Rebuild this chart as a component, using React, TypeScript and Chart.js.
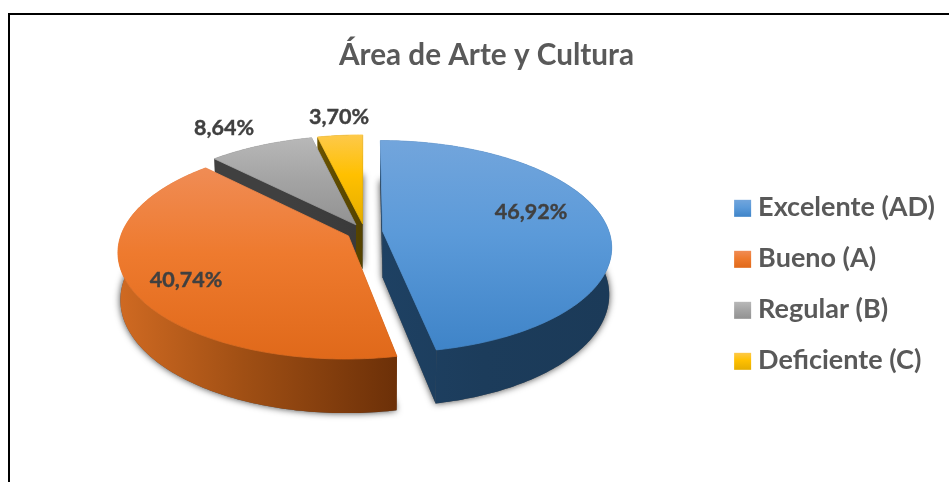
import React, { useEffect, useRef } from "react";
import { Chart, registerables } from "chart.js";

Chart.register(...registerables);

const categories = ["Excelente (AD)", "Bueno (A)", "Regular (B)", "Deficiente (C)"];
const percentages = [46.92, 40.74, 8.64, 3.7];
const chartTitle = "Área de Arte y Cultura";

const FONT = "Lato, 'Open Sans', sans-serif";
const VIEW = { cx: 364.6, cy: 232, rx: 226.5, ry: 104, k: 0.145, explode: 0.08, depth: 46, shrink: 0.99 };
const TOP_STOPS = [
  ["#72a5dc", "#5b9ad9", "#3f84c8"],
  ["#f08c55", "#ee7a2e", "#e0691a"],
  ["#b8b8b8", "#a5a5a5", "#929292"],
  ["#fdc94a", "#ffc000", "#e5ad00"],
];
const WALL_STOPS = [
  ["#1e4163", "#1c3c5b", "#1b3a58"],
  ["#d06a22", "#a04f14", "#6c3008"],
  ["#404040", "#404040", "#3a3a3a"],
  ["#6b5300", "#5d4a00", "#544200"],
];
const LABEL_CENTERS = [
  [531, 212],
  [186, 280],
  [224, 128],
  [339, 117],
];

const pct = (v: number) => v.toFixed(2).replace(".", ",") + "%";

type Pt = [number, number];

function project(px: number, py: number): { top: Pt; bottom: Pt } {
  const s = 1 / (1 - VIEW.k * py);
  const x = VIEW.cx + VIEW.rx * px * s;
  const y = VIEW.cy + VIEW.ry * py * s;
  return {
    top: [x, y],
    bottom: [VIEW.cx + (x - VIEW.cx) * VIEW.shrink, y + VIEW.depth * s],
  };
}

function poly(ctx: CanvasRenderingContext2D, pts: Pt[]) {
  ctx.beginPath();
  pts.forEach((p, i) => (i ? ctx.lineTo(p[0], p[1]) : ctx.moveTo(p[0], p[1])));
  ctx.closePath();
}

function grad(
  ctx: CanvasRenderingContext2D,
  x0: number,
  y0: number,
  x1: number,
  y1: number,
  stops: string[],
) {
  const g = ctx.createLinearGradient(x0, y0, x1, y1);
  g.addColorStop(0, stops[0]);
  g.addColorStop(0.45, stops[1]);
  g.addColorStop(1, stops[2]);
  return g;
}

function sliceGeometry(start: number, end: number) {
  const a0 = start + Math.PI / 2;
  const a1 = end + Math.PI / 2;
  const mid = (a0 + a1) / 2;
  const ox = Math.sin(mid) * VIEW.explode;
  const oy = -Math.cos(mid) * VIEW.explode;
  const apex = project(ox, oy);
  const rim: { top: Pt; bottom: Pt }[] = [];
  const steps = Math.max(4, Math.ceil(((a1 - a0) * 180) / Math.PI));
  for (let i = 0; i <= steps; i++) {
    const a = a0 + ((a1 - a0) * i) / steps;
    rim.push(project(ox + Math.sin(a), oy - Math.cos(a)));
  }
  return { apex, rim };
}

const pie3d = {
  id: "pie3d",
  beforeDatasetsDraw(chart: any) {
    const ctx: CanvasRenderingContext2D = chart.ctx;
    const arcs = chart.getDatasetMeta(0).data;
    const geo = arcs.map((a: any) => sliceGeometry(a.startAngle, a.endAngle));

    ctx.save();
    // soft shadow cast by the floor of every slice
    ctx.shadowColor = "rgba(0,0,0,0.75)";
    ctx.shadowBlur = 7;
    ctx.fillStyle = "#555";
    geo.forEach((g: any) => {
      poly(ctx, [g.apex.bottom, ...g.rim.map((r: any) => r.bottom)]);
      ctx.fill();
    });
    ctx.shadowColor = "transparent";
    ctx.shadowBlur = 0;

    // back slices first, so that the nearer ones cover them
    [3, 2, 1, 0].forEach((i) => {
      const { apex, rim } = geo[i];
      const xs = rim.map((r: any) => r.top[0]).concat(apex.top[0]);
      const ys = rim.map((r: any) => r.top[1]).concat(apex.top[1]);
      const wall = grad(ctx, Math.min(...xs), 0, Math.max(...xs), 0, WALL_STOPS[i]);
      ctx.fillStyle = wall;
      const last = rim[rim.length - 1];
      [
        [apex.top, rim[0].top, rim[0].bottom, apex.bottom],
        [apex.top, last.top, last.bottom, apex.bottom],
        [...rim.map((r: any) => r.top), ...rim.map((r: any) => r.bottom).reverse()],
      ].forEach((pts: Pt[]) => {
        poly(ctx, pts);
        ctx.fill();
      });
      const top = grad(ctx, 0, Math.min(...ys), 0, Math.max(...ys), TOP_STOPS[i]);
      ctx.fillStyle = top;
      ctx.strokeStyle = top;
      ctx.lineWidth = 0.8;
      poly(ctx, [apex.top, ...rim.map((r: any) => r.top)]);
      ctx.fill();
      ctx.stroke();
    });

    // value labels
    ctx.fillStyle = "#404040";
    ctx.strokeStyle = "#404040";
    ctx.lineWidth = 0.4;
    ctx.font = `bold 21.5px ${FONT}`;
    ctx.textAlign = "center";
    ctx.textBaseline = "middle";
    percentages.forEach((v, i) => {
      ctx.fillText(pct(v), LABEL_CENTERS[i][0], LABEL_CENTERS[i][1]);
      ctx.strokeText(pct(v), LABEL_CENTERS[i][0], LABEL_CENTERS[i][1]);
    });
    ctx.restore();
    return false;
  },
  afterDraw(chart: any) {
    const ctx: CanvasRenderingContext2D = chart.ctx;
    const boxes = chart.legend?.legendHitBoxes ?? [];
    boxes.forEach((b: any, i: number) => {
      const size = 17;
      const x = b.left + 2.5;
      const y = b.top + (b.height - size) / 2 + 1;
      ctx.fillStyle = grad(ctx, 0, y, 0, y + size, TOP_STOPS[i]);
      ctx.fillRect(x, y, size, size);
    });
  },
};

export default function App() {
  const ref = useRef<HTMLCanvasElement>(null);
  useEffect(() => {
    const chart = new Chart(ref.current as HTMLCanvasElement, {
      type: "pie",
      data: {
        labels: categories,
        datasets: [{ data: percentages, backgroundColor: TOP_STOPS.map((s) => s[1]), borderWidth: 0 }],
      },
      plugins: [pie3d],
      options: {
        responsive: false,
        animation: false,
        layout: { padding: { top: 38, right: 4, left: 28, bottom: 0 } },
        plugins: {
          tooltip: { enabled: false },
          title: {
            display: true,
            text: chartTitle,
            color: "#595959",
            font: { family: FONT, size: 29.7, weight: "bold" },
            padding: { top: 0, bottom: 12 },
          },
          legend: {
            position: "right",
            fullSize: false,
            labels: {
              boxWidth: 13,
              boxHeight: 13,
              padding: 24,
              color: "#595959",
              font: { family: FONT, size: 27, weight: "bold" },
              generateLabels: () =>
                categories.map((text, i) => ({
                  text,
                  index: i,
                  fillStyle: "rgba(0,0,0,0)",
                  strokeStyle: "rgba(0,0,0,0)",
                  lineWidth: 0,
                  fontColor: "#595959",
                })),
            },
          },
        },
      },
    } as any);
    return () => chart.destroy();
  }, []);
  return (
    <div style={{ position: "fixed", left: 0, top: 0, width: 949, height: 482, background: "#fff", overflow: "hidden" }}>
      <canvas ref={ref} width={949} height={482} style={{ display: "block", position: "absolute", left: 0, top: 0 }} />
      <div style={{ position: "absolute", left: 8, top: 13, right: 0, bottom: 0, borderTop: "2px solid #000", borderLeft: "2px solid #000", boxSizing: "border-box", pointerEvents: "none" }} />
    </div>
  );
}
